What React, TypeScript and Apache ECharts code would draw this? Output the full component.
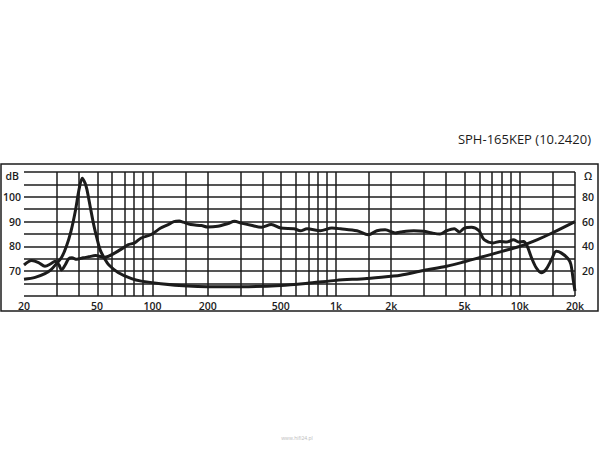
import React, { useEffect, useRef } from 'react';
import * as echarts from 'echarts';

const TITLE = 'SPH-165KEP (10.2420)';
const WATERMARK = 'www.hifi24.pl';

const SPL_FREQ = [20, 22, 24, 26, 28, 29.5, 31, 32, 33.5, 35, 36.5, 38.7, 42, 45, 49, 55, 62.6, 70, 74, 80, 87, 98, 111, 122, 131, 140, 147, 162, 185, 200, 227, 258, 280, 304, 345, 392, 444, 500, 590, 640, 695, 820, 950, 1058, 1300, 1500, 1670, 1850, 2100, 2240, 2650, 3000, 3330, 3680, 4000, 4400, 4690, 5000, 5470, 6000, 6400, 7200, 7800, 8500, 9250, 9850, 10500, 11000, 11600, 12300, 13100, 13900, 14900, 15800, 16800, 18300, 19000, 19600, 20000];
const SPL_DB = [72.5, 74.3, 73.5, 72, 73, 74, 72.5, 70.5, 72.5, 75, 75.4, 74.8, 75.4, 75.8, 76.3, 75.6, 77.4, 79.6, 80.7, 81.4, 83.4, 84.7, 87.4, 88.8, 90, 90.2, 89.8, 88.8, 88.4, 87.8, 88.1, 89.2, 90.1, 89.4, 88.5, 87.7, 88.8, 87.4, 87.1, 86.3, 87.1, 86.3, 87.4, 87.1, 86.3, 84.7, 86.3, 86.7, 85.4, 85.8, 86.3, 86.1, 85.4, 85, 86.3, 87.1, 85.8, 87.4, 87.7, 86.3, 82.7, 81.4, 82, 81.8, 82.7, 81.8, 82, 80, 75.4, 71.4, 69.4, 70.7, 74.7, 78, 77.4, 75.1, 72.7, 66, 62];

const IMP_FREQ = [20, 23, 26, 28, 30, 32, 34, 36, 38, 40, 41.5, 43, 44, 46, 48, 50, 52, 55, 58, 65, 77, 87, 111, 156, 200, 304, 500, 744, 1000, 1473, 2000, 2240, 3000, 4000, 5000, 6000, 8000, 10000, 12500, 15000, 20000];
const IMP_OHM = [13.5, 15, 18, 21, 26, 31, 40, 52, 68, 87, 95, 91, 86, 71, 57, 46, 37, 30, 25, 19, 14, 12, 9.9, 8, 7.5, 7.5, 8.5, 10.7, 12.6, 14.2, 16, 16.8, 20.6, 24, 27.6, 30.8, 36, 40, 45.5, 50.8, 60];

const GRID_FREQS = [20, 30, 40, 50, 60, 70, 80, 90, 100, 150, 200, 300, 400, 500, 600, 700, 800, 900, 1000, 1500, 2000, 3000, 4000, 5000, 6000, 7000, 8000, 9000, 10000, 15000, 20000];
const X_LABEL_FREQS = [20, 50, 100, 200, 500, 1000, 2000, 5000, 10000, 20000];
const X_LABELS = ['20', '50', '100', '200', '500', '1k', '2k', '5k', '10k', '20k'];
const DB_LABELS = [70, 80, 90, 100];
const OHM_LABELS = [20, 40, 60, 80];
const DB_UNIT = 'dB';
const OHM_UNIT = 'Ω';

const INK = '#1c1c1c';
const FONT = 'Open Sans';

export default function App() {
  const ref = useRef<HTMLDivElement>(null);

  useEffect(() => {
    if (!ref.current) return;
    const chart = echarts.init(ref.current, undefined, { renderer: 'svg' });
    const lg = (f: number) => Math.log10(f);
    const labelStyle = { fontFamily: FONT, fontSize: 10.5, fontWeight: 600, color: INK };

    chart.setOption({
      animation: false,
      backgroundColor: '#ffffff',
      title: {
        text: TITLE,
        right: 9,
        top: 132,
        padding: 0,
        textStyle: { fontFamily: FONT, fontSize: 13, fontWeight: 'normal', color: INK },
      },
      grid: { left: 22, right: 25, top: 172, bottom: 154, containLabel: false },
      xAxis: {
        type: 'value',
        min: lg(20),
        max: lg(20000),
        axisLine: { show: false },
        axisTick: { show: false },
        splitLine: { show: false },
        axisLabel: {
          ...labelStyle,
          margin: 4,
          customValues: X_LABEL_FREQS.map(lg),
          formatter: (v: number) => {
            const i = X_LABEL_FREQS.findIndex((f) => Math.abs(lg(f) - v) < 1e-6);
            return i >= 0 ? X_LABELS[i] : '';
          },
        },
      },
      yAxis: [
        {
          type: 'value',
          min: 60,
          max: 110,
          interval: 5,
          axisLine: { show: false },
          axisTick: { show: false },
          splitLine: { show: true, lineStyle: { color: INK, width: 1.5 } },
          axisLabel: {
            ...labelStyle,
            margin: 3,
            formatter: (v: number) =>
              v === 110 ? '{u|' + DB_UNIT + '}' : DB_LABELS.includes(v) ? String(v) : '',
            rich: { u: { ...labelStyle, padding: [8, 2, 0, 0] } },
          },
        },
        {
          type: 'value',
          min: 0,
          max: 100,
          interval: 10,
          position: 'right',
          axisLine: { show: false },
          axisTick: { show: false },
          splitLine: { show: false },
          axisLabel: {
            ...labelStyle,
            margin: 7,
            formatter: (v: number) =>
              v === 100 ? '{u|' + OHM_UNIT + '}' : OHM_LABELS.includes(v) ? String(v) : '',
            rich: { u: { ...labelStyle, padding: [8, 0, 0, 2] } },
          },
        },
      ],
      series: [
        {
          type: 'line',
          name: 'SPL',
          yAxisIndex: 0,
          data: SPL_FREQ.map((f, i) => [lg(f), SPL_DB[i]]),
          showSymbol: false,
          symbol: 'none',
          smooth: 0.3,
          lineStyle: { color: INK, width: 3 },
          z: 3,
          markLine: {
            silent: true,
            symbol: ['none', 'none'],
            label: { show: false },
            lineStyle: { color: INK, width: 1.5, type: 'solid' },
            data: GRID_FREQS.map((f) => ({ xAxis: lg(f) })),
            z: 1,
          },
        },
        {
          type: 'line',
          name: 'Impedance',
          yAxisIndex: 1,
          data: IMP_FREQ.map((f, i) => [lg(f), IMP_OHM[i]]),
          showSymbol: false,
          symbol: 'none',
          smooth: 0.3,
          lineStyle: { color: INK, width: 3 },
          z: 3,
        },
      ],
      graphic: [
        {
          type: 'rect',
          shape: { x: 1, y: 164, width: 597, height: 147 },
          style: { fill: 'none', stroke: INK, lineWidth: 1.5 },
          silent: true,
        },
        {
          type: 'text',
          x: 297,
          y: 438,
          style: {
            text: WATERMARK,
            fontSize: 5,
            fontFamily: FONT,
            fill: '#bbbbbb',
            textAlign: 'center',
            textVerticalAlign: 'middle',
          },
          silent: true,
        },
      ],
    });

    return () => chart.dispose();
  }, []);

  return (
    <div
      ref={ref}
      style={{ position: 'absolute', left: 0, top: 0, width: 600, height: 450 }}
    />
  );
}
